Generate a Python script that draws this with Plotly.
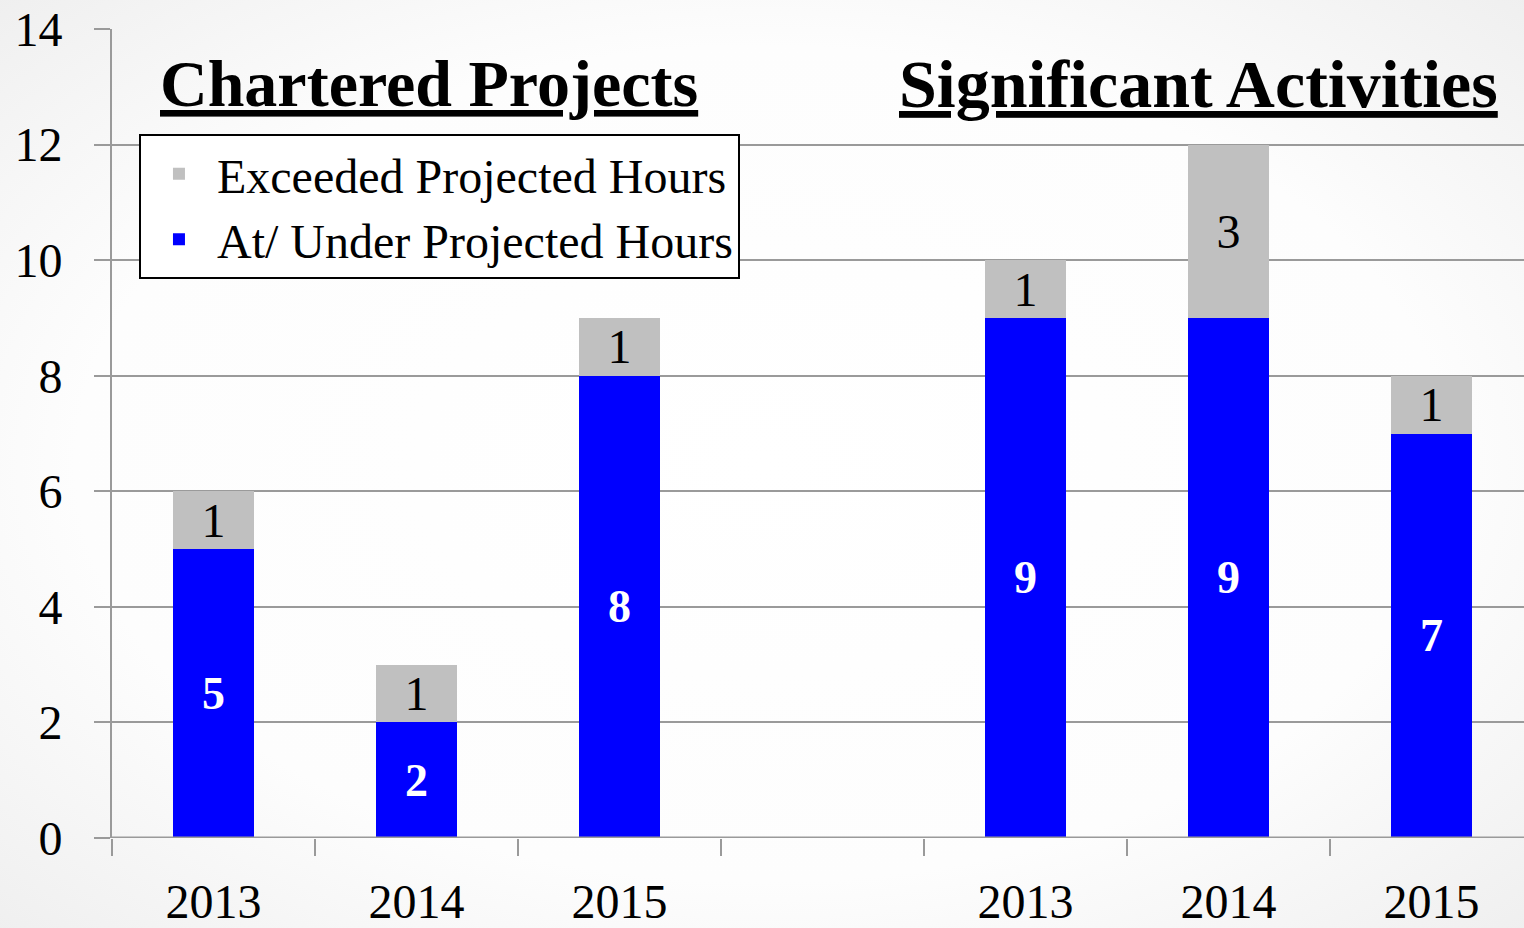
import plotly.graph_objects as go

# slots on the x axis; the empty slot separates the two groups
x_labels = ["2013", "2014", "2015", "", "2013", "2014", "2015"]
under_hours = [5, 2, 8, None, 9, 9, 7]
exceeded_hours = [1, 1, 1, None, 1, 3, 1]
group_titles = ["Chartered Projects", "Significant Activities"]
y_ticks = [0, 2, 4, 6, 8, 10, 12, 14]

FONT = "Liberation Serif"
x_pos = list(range(len(x_labels)))

bg_svg = (
    "data:image/svg+xml;utf8,"
    "<svg xmlns='http://www.w3.org/2000/svg' width='1524' height='928'>"
    "<defs><radialGradient id='g' cx='50%' cy='50%' r='75%'>"
    "<stop offset='0%' stop-color='%23ffffff'/>"
    "<stop offset='60%' stop-color='%23fdfdfd'/>"
    "<stop offset='100%' stop-color='%23ededed'/>"
    "</radialGradient></defs>"
    "<rect width='1524' height='928' fill='url(%23g)'/></svg>"
)

fig = go.Figure()
fig.add_trace(go.Bar(
    x=x_pos, y=under_hours, name="At/ Under Projected Hours",
    marker=dict(color="#0000FF", line=dict(width=0)), width=0.4,
    text=[("<b>%d</b>" % v) if v else "" for v in under_hours],
    textposition="inside", insidetextanchor="middle", constraintext="none", textangle=0,
    textfont=dict(family=FONT, size=46, color="white"),
))
fig.add_trace(go.Bar(
    x=x_pos, y=exceeded_hours, name="Exceeded Projected Hours",
    marker=dict(color="#C0C0C0", line=dict(width=0)), width=0.4,
    text=[str(v) if v else "" for v in exceeded_hours],
    textposition="inside", insidetextanchor="middle", constraintext="none", textangle=0,
    textfont=dict(family=FONT, size=48, color="black"),
))

# group headings over each set of bars
fig.add_annotation(x=1.06, y=13.05, xref="x", yref="y", text="<b><u>%s</u></b>" % group_titles[0],
                   showarrow=False, font=dict(family=FONT, size=66, color="black"))
fig.add_annotation(x=4.85, y=13.05, xref="x", yref="y", text="<b><u>%s</u></b>" % group_titles[1],
                   showarrow=False, font=dict(family=FONT, size=68, color="black"))

fig.update_layout(
    width=1524, height=928,
    margin=dict(l=112, r=0, t=29, b=90),
    barmode="stack",
    paper_bgcolor="white",
    plot_bgcolor="rgba(0,0,0,0)",
    font=dict(family=FONT, size=48, color="black"),
    images=[dict(source=bg_svg, xref="paper", yref="paper", x=-112 / 1412, y=1 + 29 / 809,
                 sizex=1524 / 1412, sizey=928 / 809, sizing="stretch", layer="below")],
    legend=dict(x=0.0191, y=0.870, xanchor="left", yanchor="top",
                bgcolor="white", bordercolor="black", borderwidth=2,
                font=dict(family=FONT, size=48), itemwidth=66, tracegroupgap=0),
    showlegend=True,
)
fig.update_xaxes(
    range=[-0.5, 6.456], tickvals=x_pos, ticktext=x_labels, ticks="",
    showgrid=False, zeroline=False, showline=False, automargin=False,
    tickfont=dict(family=FONT, size=48), ticklabelstandoff=31,
    minor=dict(tick0=-0.5, dtick=1, ticks="outside", ticklen=17, tickwidth=2, tickcolor="#9a9a9a"),
)
fig.update_yaxes(
    range=[0, 14], tickvals=y_ticks, ticks="outside", ticklen=16, tickwidth=2, tickcolor="#9a9a9a",
    showgrid=True, gridcolor="#9a9a9a", gridwidth=2, zeroline=False, automargin=False,
    showline=True, linecolor="#9a9a9a", linewidth=2,
    tickfont=dict(family=FONT, size=48), ticklabelstandoff=22,
)
fig.add_hline(y=0, line=dict(color="#9a9a9a", width=3))

fig.write_html("out.html", config={"displayModeBar": False},
               post_script="document.body.style.margin='0';")
